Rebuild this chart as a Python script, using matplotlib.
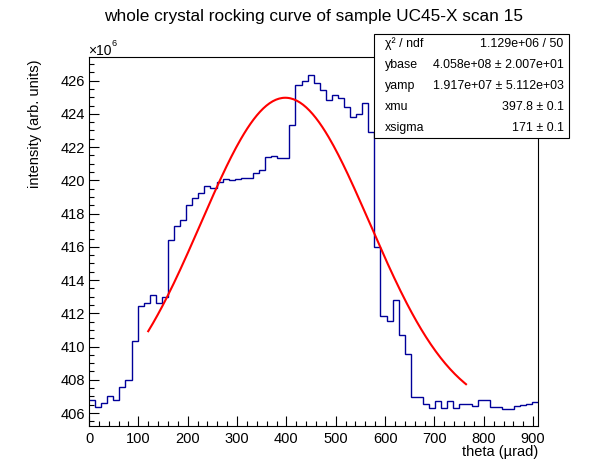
import numpy as np
import matplotlib
matplotlib.use("Agg")
import matplotlib.pyplot as plt
from matplotlib.patches import Rectangle
from matplotlib.ticker import MultipleLocator

plt.rcParams['font.family'] = ['Liberation Sans', 'DejaVu Sans']

# ---- data ----
# histogram bin contents (units of 1e6), 74 equal bins from 0 to x_max
counts = [406.78, 406.36, 406.60, 407.02, 406.78, 407.56, 407.98, 410.32, 412.43, 412.61,
          413.09, 412.61, 412.97, 416.39, 417.23, 417.59, 418.49, 418.91, 419.21, 419.69,
          419.57, 419.93, 420.11, 420.05, 420.11, 420.17, 420.17, 420.47, 420.65, 421.38,
          421.44, 421.32, 421.35, 423.32, 425.76, 426.00, 426.36, 425.88, 425.46, 424.86,
          425.16, 424.98, 424.44, 423.84, 424.02, 424.68, 422.88, 415.97, 411.84, 411.54,
          412.79, 410.68, 409.54, 406.98, 406.98, 406.56, 406.28, 406.70, 406.32, 406.70,
          406.28, 406.53, 406.53, 406.40, 406.77, 406.77, 406.35, 406.35, 406.23, 406.23,
          406.41, 406.47, 406.53, 406.65]
x_min, x_max = 0.0, 910.5

# fit results (gaussian + base)
ybase, yamp, xmu, xsigma = 4.058e+08, 1.917e+07, 397.8, 171.0
fit_range = (120.0, 764.0)

stat_names = ["χ² / ndf", "ybase", "yamp", "xmu", "xsigma"]
stat_values = ["1.129e+06 / 50", "4.058e+08 ± 2.007e+01", "1.917e+07 ± 5.112e+03",
               "397.8 ± 0.1", "171 ± 0.1"]

title = "whole crystal rocking curve of sample UC45-X scan 15"
xlabel = "theta (µrad)"
ylabel = "intensity (arb. units)"

# ---- figure ----
W, H = 598, 474
fig = plt.figure(figsize=(W / 100, H / 100), dpi=100)
L, R, T, B = 89.0, 538.3, 56.7, 426.0
ax = fig.add_axes([L / W, 1 - B / H, (R - L) / W, (B - T) / H])

edges = np.linspace(x_min, x_max, len(counts) + 1)
ax.stairs(counts, edges, color='#000099', lw=1.0, baseline=None)

xf = np.linspace(fit_range[0], fit_range[1], 200)
yf = (ybase + yamp * np.exp(-0.5 * ((xf - xmu) / xsigma) ** 2)) / 1e6
ax.plot(xf, yf, color='#ff0000', lw=1.5)

ax.set_xlim(x_min, x_max)
ax.set_ylim(405.22, 427.44)

ax.xaxis.set_major_locator(MultipleLocator(100))
ax.xaxis.set_minor_locator(MultipleLocator(20))
ax.yaxis.set_major_locator(MultipleLocator(2))
ax.yaxis.set_minor_locator(MultipleLocator(0.5))
ax.tick_params(which='both', direction='in', top=False, right=False, labelsize=10.5, color='black')
ax.tick_params(which='major', length=7.2, width=0.8)
ax.tick_params(which='minor', length=3.6, width=0.8)
ax.tick_params(axis='y', pad=3)
ax.tick_params(axis='x', pad=4)
for s in ax.spines.values():
    s.set_linewidth(0.8)

def fy(py):
    return 1 - py / H

fig.text(313.5 / W, fy(17), title, ha='center', va='center', fontsize=12.4)
fig.text(538.3 / W, fy(452), xlabel, ha='right', va='center', fontsize=10.5)
fig.text(35 / W, fy(60), ylabel, ha='center', va='top', rotation=90, fontsize=10.5)
fig.text(88.5 / W, fy(51), "×10", ha='left', va='center', fontsize=10)
fig.text(111.5 / W, fy(43.5), "6", ha='left', va='center', fontsize=6.5)

# stats box
bx0, by0, bx1, by1 = 374.3, 33.5, 569.0, 138.3
fig.patches.append(Rectangle((bx0 / W, fy(by1)), (bx1 - bx0) / W, (by1 - by0) / H,
                             transform=fig.transFigure, facecolor='white',
                             edgecolor='black', lw=0.8, zorder=5))
row_h = (by1 - by0) / len(stat_names)
for i, (n, v) in enumerate(zip(stat_names, stat_values)):
    yc = by0 + row_h * (i + 0.5)
    fig.text(385 / W, fy(yc), n, ha='left', va='center', fontsize=8.9, zorder=6)
    fig.text(563.5 / W, fy(yc), v, ha='right', va='center', fontsize=8.9, zorder=6)

fig.savefig("out.png", dpi=100)
